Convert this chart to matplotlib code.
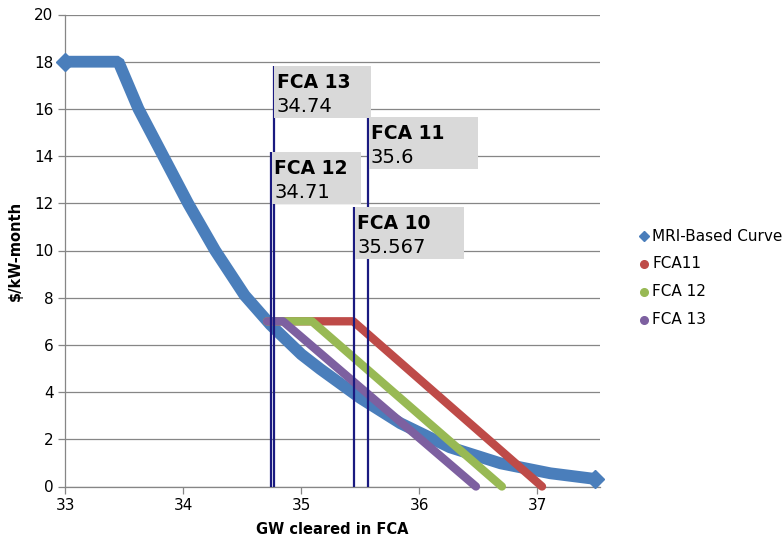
import matplotlib
matplotlib.use("Agg")
import matplotlib.pyplot as plt
from matplotlib.lines import Line2D
from matplotlib.patches import Rectangle

# MRI-based demand curve ($/kW-month vs GW)
mri_x = [33.0, 33.45, 33.62, 33.83, 34.04, 34.27, 34.52, 34.74, 35.0, 35.16,
         35.5, 35.84, 36.26, 36.69, 37.11, 37.49]
mri_y = [18.0, 18.0, 16.0, 14.0, 12.0, 10.0, 8.1, 6.85, 5.6, 4.98,
         3.75, 2.68, 1.66, 0.98, 0.56, 0.32]

# FCA curves: flat at cap, then straight to zero
fca11_x = [34.71, 35.44, 37.04]
fca11_y = [7.0, 7.0, 0.0]
fca12_x = [34.71, 35.09, 36.70]
fca12_y = [7.0, 7.0, 0.0]
fca13_x = [34.71, 34.845, 36.48]
fca13_y = [7.0, 7.0, 0.0]

# clearing lines and their labels
clear_names = ["FCA 13", "FCA 12", "FCA 11", "FCA 10"]
clear_values = ["34.74", "34.71", "35.6", "35.567"]
clear_x = [34.765, 34.745, 35.565, 35.45]
clear_top = [17.8, 14.19, 15.66, 11.86]
box_w = [0.822, 0.754, 0.924, 0.924]

legend_names = ["MRI-Based Curve", "FCA11", "FCA 12", "FCA 13"]

blue = "#4a7ebb"
red = "#be4b48"
green = "#98b954"
purple = "#7d60a0"
navy = "#1a1a80"
grey = "#868686"

fig = plt.figure(figsize=(7.84, 5.39), dpi=100)
ax = fig.add_axes([65.3 / 784, 1 - 486.5 / 539, (600 - 65.3) / 784, 472 / 539])

ax.plot(mri_x, mri_y, color=blue, lw=8.5, solid_joinstyle="bevel", solid_capstyle="butt",
        marker="D", markevery=[0, len(mri_x) - 1], markersize=9, clip_on=False, zorder=3)
for xs, ys, c in [(fca11_x, fca11_y, red), (fca12_x, fca12_y, green), (fca13_x, fca13_y, purple)]:
    ax.plot(xs, ys, color=c, lw=6, solid_capstyle="round", solid_joinstyle="round",
            clip_on=False, zorder=4)

ax.vlines(clear_x, 0, clear_top, color=navy, lw=1.6, zorder=5)

for name, val, x, top, w in zip(clear_names, clear_values, clear_x, clear_top, box_w):
    ax.add_patch(Rectangle((x + 0.006, top - 2.2), w, 2.2, facecolor="#d9d9d9",
                           edgecolor="none", zorder=6))
    ax.text(x + 0.025, top - 0.93, name, fontsize=13.5, fontweight="bold",
            va="baseline", ha="left", zorder=7)
    ax.text(x + 0.025, top - 1.95, val, fontsize=14, va="baseline", ha="left", zorder=7)

ax.set_xlim(33, 33 + (600 - 65.3) / 118)
ax.set_ylim(0, 20)
ax.set_xticks([33, 34, 35, 36, 37])
ax.set_yticks(range(0, 21, 2))
ax.yaxis.grid(True, color=grey, lw=0.9)
ax.set_axisbelow(True)
for s in ["top", "right"]:
    ax.spines[s].set_visible(False)
for s in ["left", "bottom"]:
    ax.spines[s].set_color(grey)
    ax.spines[s].set_linewidth(0.9)
ax.tick_params(axis="both", colors=grey, labelcolor="black", labelsize=11, length=5, width=0.9)
ax.set_xlabel("GW cleared in FCA", fontsize=10.5, fontweight="bold", labelpad=6)
ax.set_ylabel("$/kW-month", fontsize=10.5, fontweight="bold", labelpad=8)

# legend drawn by hand so it can run off the right edge like the original
for i, (name, c, m) in enumerate(zip(legend_names, [blue, red, green, purple], ["D", "o", "o", "o"])):
    yy = 1 - (236 + 28 * i) / 539
    fig.add_artist(Line2D([644 / 784], [yy], marker=m, color=c, markersize=5.5 if m == "o" else 5,
                          transform=fig.transFigure))
    fig.text(652.5 / 784, yy, name, fontsize=11, va="center", ha="left")

fig.savefig("out.png", dpi=100)
